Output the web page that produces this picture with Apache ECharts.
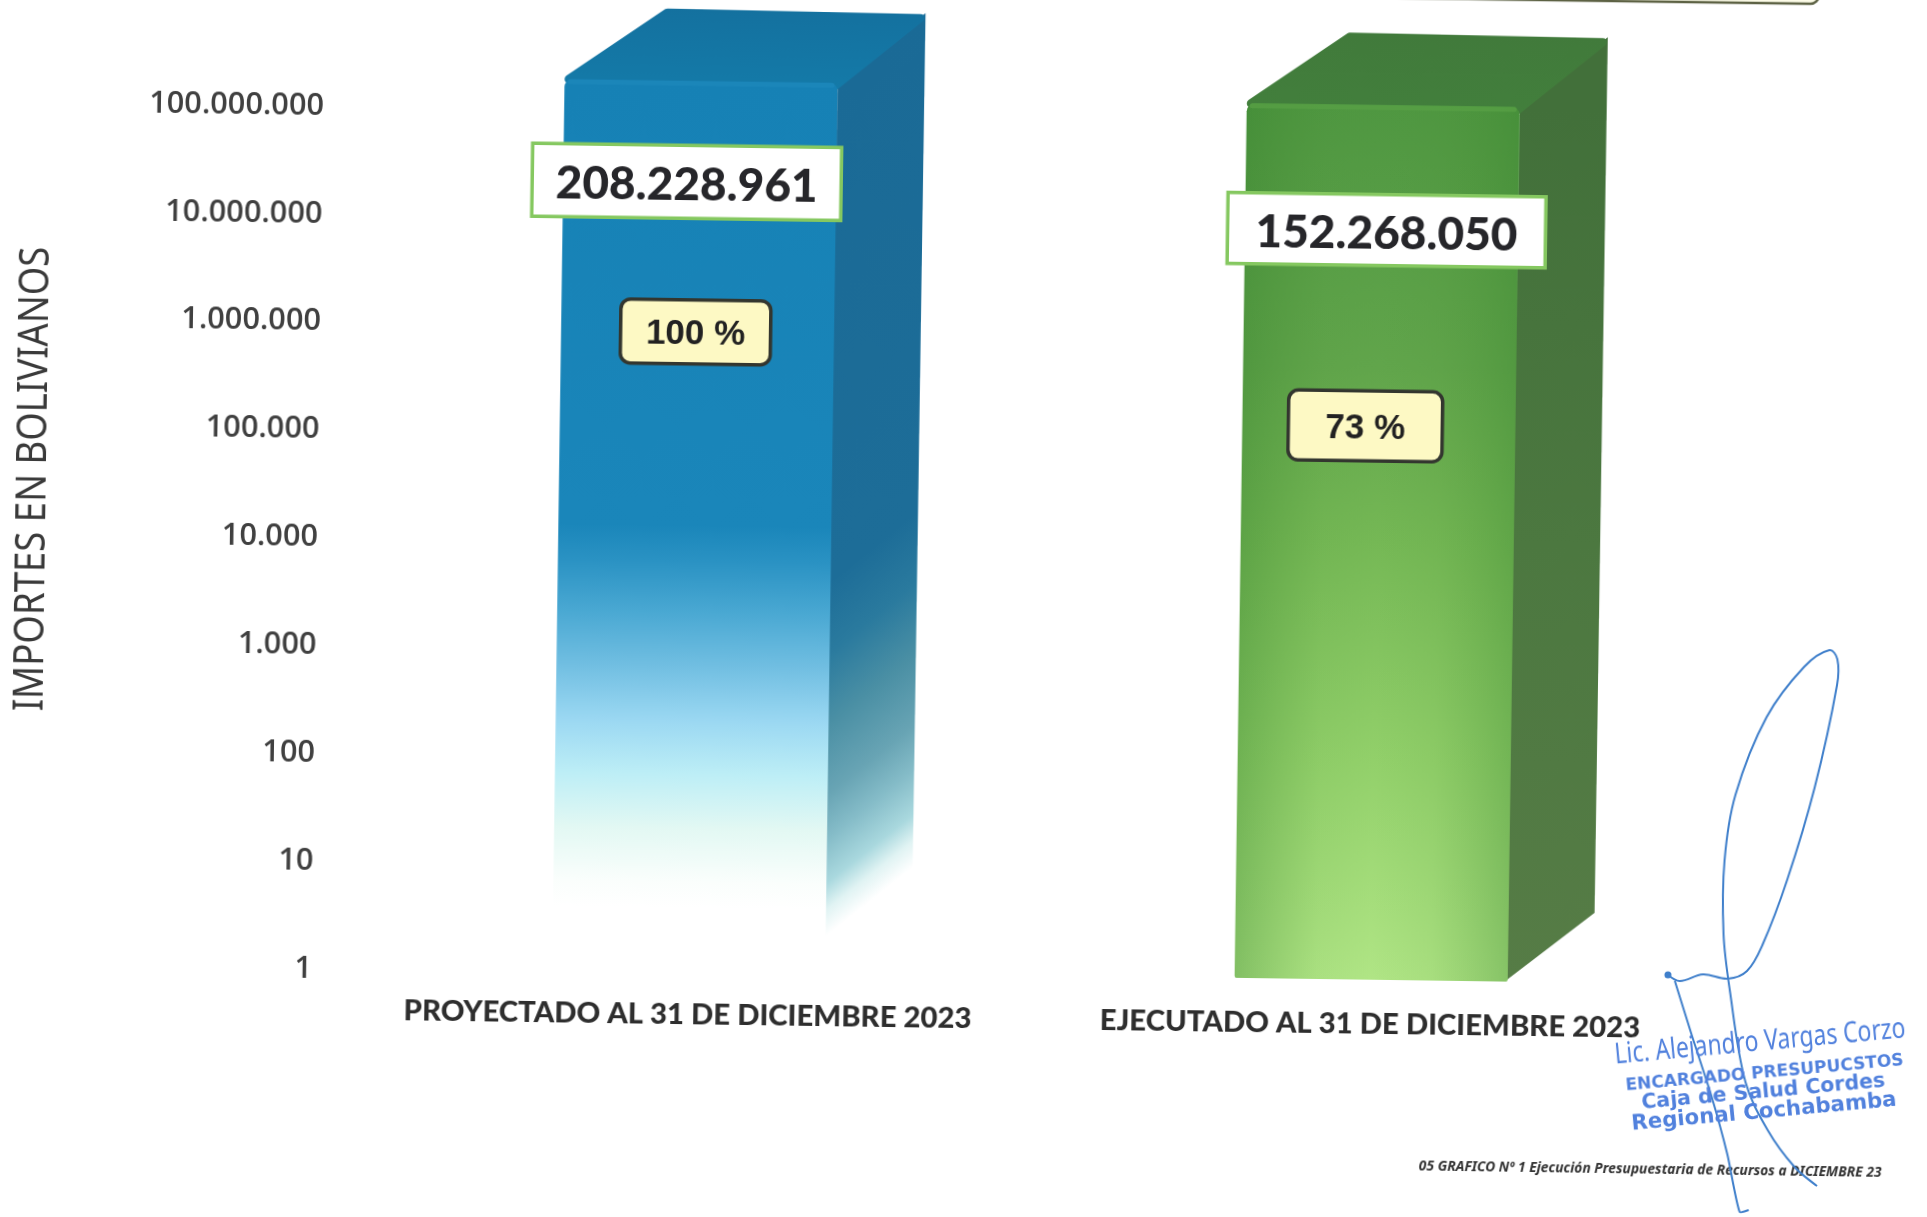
<!DOCTYPE html>
<html><head><meta charset="utf-8">
<style>
html,body{margin:0;padding:0;background:#fff;overflow:hidden;width:1927px;height:1217px}
#c{position:absolute;left:-40px;top:-40px;width:2007px;height:1297px;transform-origin:1003px 648px;transform:rotate(0.8deg);filter:blur(0.5px)}
</style>
<script src="https://cdn.jsdelivr.net/npm/echarts@6/dist/echarts.min.js"></script>
</head><body><div id="c"></div>
<script>
// ---- data ----
const categories = ['PROYECTADO AL 31 DE DICIEMBRE 2023', 'EJECUTADO AL 31 DE DICIEMBRE 2023'];
const importes = [208228961, 152268050];
const porcentajes = [100, 73];
const axisName = 'IMPORTES EN BOLIVIANOS';
const footerText = '05 GRAFICO Nº 1 Ejecución Presupuestaria de Recursos a DICIEMBRE 23';
const stampLines = ['Lic. Alejandro Vargas Corzo', 'ENCARGADO PRESUPUCSTOS', 'Caja de Salud Cordes', 'Regional Cochabamba'];

// ---- presentation ----
const M = 40;                     // canvas margin, lets the rotated sheet cover the page
const BAR_W = 273, DX = 87, DY = -71, TOP_INSET = 8;
const valueBox = [{dx:-13, dy:101, w:309, h:73}, {dx:5, dy:125, w:318, h:71}];
const pctBox   = [{dx:-2,  dy:251, w:150, h:64}, {dx:-13.5, dy:321, w:154, h:70}];
const fmt = v => String(Math.round(v)).replace(/\B(?=(\d{3})+$)/g, '.');
const grad = (x, y, x2, y2, stops, global) => new echarts.graphic.LinearGradient(x, y, x2, y2,
  stops.map(s => ({offset:s[0], color:s[1]})), global);

function blueFaces(l, r, top, bot) {
  const h = bot - top;
  const stops = [
    [0,'#1681b5'],[0.50,'#1a86ba'],[0.54,'#2a92c3'],[0.60,'#4ba9d3'],[0.66,'#72bfe2'],[0.72,'#9bd8f2'],
    [0.78,'#bdeef6'],[0.84,'#e2f8f3'],[0.90,'#fafefc'],[0.93,'#ffffff'],[1,'#ffffff']
  ];
  const sideStops = [
    [0,'#1a6a96'],[0.56,'#1d6d98'],[0.64,'#2a7a9e'],[0.72,'#4a8fa4'],[0.80,'#68a4b4'],[0.85,'#85bcc8'],
    [0.90,'#a9d8de'],[0.93,'#e0f3f3'],[0.96,'#ffffff'],[1,'#ffffff']
  ];
  const nk = h * 87 / (71*71 + 87*87); // gradient runs normal to the depth edge
  return {
    front: grad(0, top, 0, bot, stops, true),
    side: grad(r, top, r + 71*nk, top + 87*nk, sideStops, true),
    top: grad(0, 0, 0, 1, [[0,'#14719f'],[1,'#147aa8']]),
    topEdge: '#1d88bb', overlay: null
  };
}
function greenFaces(l, r, top, bot) {
  return {
    front: grad(0, top, 0, bot, [[0,'#4f9741'],[0.3,'#61a54b'],[0.5,'#75b855'],[0.75,'#92d06a'],[1,'#b0e585']], true),
    side: grad(0, top, 0, bot, [[0,'#42703a'],[0.5,'#4c7840'],[1,'#567c46']], true),
    top: grad(0, 0, 0, 1, [[0,'#417a3b'],[1,'#427f3c']]),
    topEdge: '#58a046',
    overlay: grad(0, 0, 1, 0, [[0,'rgba(55,130,45,0.38)'],[0.3,'rgba(70,140,50,0.06)'],[0.5,'rgba(80,150,60,0)'],[0.72,'rgba(70,140,50,0.08)'],[1,'rgba(55,130,45,0.34)']])
  };
}
const facesFor = [blueFaces, greenFaces];

function renderBar(params, api) {
  const i = params.dataIndex;
  const cat = api.value(0), val = api.value(1);
  const pTop = api.coord([cat, val]);
  const pBot = api.coord([cat, 1]);
  const cx = pTop[0] + 0.5, l = cx - BAR_W/2, r = cx + BAR_W/2;
  const top = pTop[1] + TOP_INSET, bot = pBot[1];
  const f = facesFor[i](l, r, top, bot);
  const kids = [];
  kids.push({type:'polygon', shape:{points:[[r,top],[r+DX,top+DY],[r+DX-1,bot+DY+1],[r-3,bot]]}, style:{fill:f.side}});
  kids.push({type:'polygon', shape:{points:[[l+4,top],[l+DX+15,top+DY+3],[r+DX-5,top+DY+5],[r-2,top+3]]},
    style:{fill:f.top, stroke:f.top, lineWidth:8, lineJoin:'round'}});
  kids.push({type:'rect', shape:{x:l, y:top, width:r-l, height:bot-top, r:[8,8,2,2]}, style:{fill:f.front}});
  if (f.overlay) kids.push({type:'rect', shape:{x:l, y:top, width:r-l, height:bot-top, r:[8,8,2,2]}, style:{fill:f.overlay}});
  kids.push({type:'rect', shape:{x:l+3, y:top, width:r-l-6, height:5, r:3}, style:{fill:f.topEdge, opacity:0.75}});
  const vb = valueBox[i], vx = cx + vb.dx, vy = top + vb.dy;
  kids.push({type:'rect', shape:{x:vx-vb.w/2, y:vy-vb.h/2, width:vb.w, height:vb.h},
    style:{fill:'#ffffff', stroke:'#85c860', lineWidth:3.5}});
  kids.push({type:'text', style:{x:vx, y:vy+4, text:fmt(val), align:'center', verticalAlign:'middle',
    font:'900 46px Lato', fill:'#26262a'}});
  const pb = pctBox[i], px = cx + pb.dx, py = top + pb.dy;
  kids.push({type:'rect', shape:{x:px-pb.w/2, y:py-pb.h/2, width:pb.w, height:pb.h, r:10},
    style:{fill:'#fdf9c4', stroke:'#33362f', lineWidth:3.5}});
  kids.push({type:'text', style:{x:px, y:py+3, text:porcentajes[i]+' %', align:'center', verticalAlign:'middle',
    font:'bold 35px "Liberation Sans"', fill:'#222222'}});
  return {type:'group', children:kids};
}

const sigA = [[1668,976],[1680,982],[1703,975],[1728,979],[1747,971],[1762,945],[1786,879],[1812,787],[1833,684],[1833,658],[1825,649],[1800,666],[1763,717],[1733,795],[1723,861],[1723,934],[1730,990],[1747,1082],[1770,1130],[1797,1166],[1820,1185]];
const sigB = [[1675,982],[1693,1037],[1713,1096],[1730,1155],[1743,1212],[1752,1210]];
const stampPos = [[1761,1042,'29px "Noto Sans"',0.79],[1766,1073,'bold 17px "DejaVu Sans"',1],[1765,1092,'bold 20.5px "DejaVu Sans"',1],[1766,1112,'bold 21.3px "DejaVu Sans"',1]];

const chart = echarts.init(document.getElementById('c'), null, {renderer:'canvas'});
chart.setOption({
  animation:false,
  backgroundColor:'#ffffff',
  grid:{left:352+M, right:2007-(1717+M), top:111+M, bottom:1297-(974+M), containLabel:false},
  xAxis:{type:'category', data:categories, axisLine:{show:false}, axisTick:{show:false}, splitLine:{show:false},
    axisLabel:{margin:30, interval:0, color:'#2e2e2e', fontFamily:'Lato', fontWeight:900, fontSize:29.3}},
  yAxis:{type:'log', logBase:10, min:1, max:100000000, axisLine:{show:false}, axisTick:{show:false}, splitLine:{show:false},
    axisLabel:{margin:35, formatter:v=>'{t|'+fmt(v)+'}',
      rich:{t:{color:'#404040', fontFamily:'Open Sans', fontWeight:600, fontSize:30.7, padding:[8,0,0,0]}}}},
  series:[{type:'custom', renderItem:renderBar, clip:false, data:importes.map((v,i)=>[i,v]), encode:{x:0,y:1}}],
  graphic:[
    {type:'rect', shape:{x:1000+M, y:-60+M, width:810, height:52, r:8}, style:{fill:'#fdfce8', stroke:'#5d6244', lineWidth:2.5}},
    {type:'text', x:32+M, y:492+M, rotation:Math.PI/2, scaleX:0.87,
      style:{x:0, y:0, text:axisName, align:'center', verticalAlign:'middle', font:'42px "Noto Sans"', fill:'#3a3a3a'}},
    {type:'text', style:{x:1658+M, y:1160+M, text:footerText, align:'center', verticalAlign:'middle',
      font:'italic bold 13.8px "Noto Sans"', fill:'#333333'}},
    {type:'group', x:5+M, y:-11+M, children:[
      {type:'polyline', shape:{points:sigA, smooth:0.35}, style:{stroke:'#3f7fcb', fill:null, lineWidth:2}},
      {type:'polyline', shape:{points:sigB, smooth:0.2}, style:{stroke:'#3f7fcb', fill:null, lineWidth:2}},
      {type:'circle', shape:{cx:1668, cy:976, r:3.5}, style:{fill:'#3f7fcb'}}
    ].concat(stampLines.map((t,i)=>({type:'text', x:stampPos[i][0], y:stampPos[i][1], rotation:6*Math.PI/180, scaleX:stampPos[i][3],
      style:{x:0, y:0, text:t, align:'center', verticalAlign:'middle', font:stampPos[i][2], fill:'#5181dd'}})))}
  ]
});
</script></body></html>
